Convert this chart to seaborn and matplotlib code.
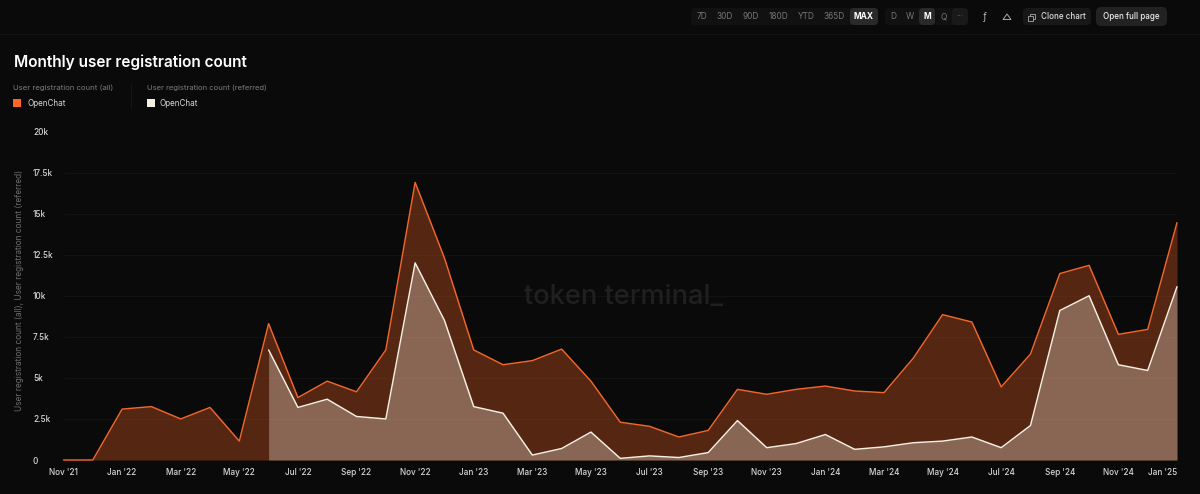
import numpy as np
import pandas as pd
import matplotlib.pyplot as plt
from matplotlib.patches import FancyBboxPatch, Rectangle
import seaborn as sns

# Values
months = pd.date_range('2021-11-01', '2025-01-01', freq='MS')
all_count = [0, 0, 3100, 3250, 2500, 3200, 1150, 8300, 3800, 4800, 4150, 6700, 16900,
             12300, 6700, 5800, 6050, 6750, 4800, 2300, 2050, 1400, 1800, 4300, 4000,
             4300, 4500, 4200, 4100, 6200, 8850, 8400, 4450, 6450, 11350, 11850, 7650,
             7950, 14450]
referred_count = [np.nan] * 7 + [6700, 3200, 3700, 2650, 2500, 12000, 8500, 3250, 2850, 300,
                                 700, 1700, 100, 250, 150, 450, 2400, 750, 1000, 1550, 650,
                                 800, 1050, 1150, 1400, 750, 2100, 9100, 10000, 5800, 5450,
                                 10550]
y_ticks = [0, 2500, 5000, 7500, 10000, 12500, 15000, 17500, 20000]
y_labels = ['0', '2.5k', '5k', '7.5k', '10k', '12.5k', '15k', '17.5k', '20k']
range_buttons = ['7D', '30D', '90D', '180D', 'YTD', '365D', 'MAX']
range_x = [702, 725, 751, 778, 806, 834, 864]
freq_buttons = ['D', 'W', 'M', 'Q', '···']
freq_x = [893, 910, 927, 944, 960]

BG = '#0a0a0a'
ORANGE = '#f0662c'
CREAM = '#f7f0e2'
W, H = 1200, 494

sns.set_theme(style='dark')
plt.rcParams['font.family'] = ['Inter', 'DejaVu Sans']

df = pd.DataFrame({'month': months, 'all': all_count, 'referred': referred_count})
df['x'] = np.arange(len(df))
ref = df.dropna(subset=['referred'])

fig = plt.figure(figsize=(12, 4.94), dpi=100, facecolor=BG)
ax = fig.add_axes([63.5 / W, 1 - 460 / H, (1177 - 63.5) / W, (460 - 131.5) / H], facecolor=BG)

ax.fill_between(df['x'], 0, df['all'], color='#ff6524', alpha=0.31, lw=0)
ax.fill_between(ref['x'], 0, ref['referred'], color=CREAM, alpha=0.32, lw=0)
sns.lineplot(data=df, x='x', y='all', color=ORANGE, lw=1.05, ax=ax, clip_on=False)
sns.lineplot(data=ref, x='x', y='referred', color=CREAM, lw=1.05, ax=ax, clip_on=False)

ax.set_xlim(0, len(df) - 1)
ax.set_ylim(0, 20000)
ax.set_yticks(y_ticks)
ax.set_yticklabels(y_labels, ha='left')
tick_x = list(df['x'][::2])
ax.set_xticks(tick_x)
ax.set_xticklabels([m.strftime("%b '%y") for m in df['month'][::2]])
ax.get_xticklabels()[-1].set_ha('right')
ax.tick_params(axis='both', length=0, colors='#d8d8d8', labelsize=5.9)
ax.tick_params(axis='x', pad=6)
ax.tick_params(axis='y', pad=22)
for lab in ax.get_xticklabels() + ax.get_yticklabels():
    lab.set_fontweight('medium')
ax.grid(axis='y', color='#131313', lw=0.7)
ax.grid(axis='x', visible=False)
ax.set_axisbelow(True)
sns.despine(ax=ax, left=True, bottom=True)
ax.set_xlabel('')
ax.set_ylabel('User registration count (all), User registration count (referred)',
              color='#6e6e6e', fontsize=6.0)
ax.yaxis.set_label_coords((24 - 63.5) / (1177 - 63.5), 0.517)


def px_text(x, y, s, **kw):
    kw.setdefault('va', 'center')
    kw.setdefault('ha', 'left')
    fig.text(x / W, 1 - y / H, s, **kw)


def px_box(x0, y0, x1, y1, color, rad=4):
    fig.add_artist(FancyBboxPatch((x0, H - y1), x1 - x0, y1 - y0,
                                  boxstyle=f'round,pad=0,rounding_size={rad}',
                                  transform=None, fc=color, ec='none', zorder=0))


# Watermark
px_text(624, 297, 'token terminal_', ha='center', fontsize=19.6, color='#202020', fontweight='medium')

# Title and legend
px_text(14, 62, 'Monthly user registration count', color='white', fontsize=11.1, fontweight='semibold')
px_text(13, 88, 'User registration count (all)', color='#7c7c7c', fontsize=5.6)
px_text(147, 88, 'User registration count (referred)', color='#7c7c7c', fontsize=5.5)
px_text(27, 103, 'OpenChat', color='#d8d8d8', fontsize=5.8)
px_text(160, 103, 'OpenChat', color='#d8d8d8', fontsize=5.8)
fig.add_artist(Rectangle((13 / W, 1 - 107 / H), 8 / W, 8 / H, transform=fig.transFigure, fc='#ff6524', ec='none'))
fig.add_artist(Rectangle((147 / W, 1 - 107 / H), 8 / W, 8 / H, transform=fig.transFigure, fc=CREAM, ec='none'))
fig.add_artist(plt.Line2D([131 / W, 131 / W], [1 - 108 / H, 1 - 84 / H], color='#171717', lw=0.7))

# Toolbar
fig.add_artist(plt.Line2D([0, 1], [1 - 34.5 / H, 1 - 34.5 / H], color='#141414', lw=0.7))
px_box(691, 8, 878, 25, '#111111')
px_box(850, 8, 878, 25, '#2a2a2a')
px_box(885, 8, 968, 25, '#111111')
px_box(919, 8, 935, 25, '#2a2a2a')
px_box(952, 8, 968, 25, '#1a1a1a')
px_box(1023, 8, 1091, 25, '#181818')
px_box(1096, 7, 1167, 26, '#222222', rad=5)
for s, x in zip(range_buttons, range_x):
    active = s == 'MAX'
    px_text(x, 16.5, s, ha='center', fontsize=6.0, color='white' if active else '#767676',
            fontweight='bold' if active else 'normal')
for s, x in zip(freq_buttons, freq_x):
    active = s == 'M'
    px_text(x, 16.5, s, ha='center', fontsize=6.0, color='white' if active else '#767676',
            fontweight='bold' if active else 'normal')
px_text(985, 16.5, 'ƒ', ha='center', fontsize=7, color='#bbbbbb')
px_text(1041, 16.5, 'Clone chart', fontsize=5.8, color='#dddddd', fontweight='medium')
px_text(1131.5, 16.5, 'Open full page', ha='center', fontsize=5.8, color='#eeeeee', fontweight='medium')
fig.add_artist(Rectangle((1030 / W, 1 - 19.5 / H), 5 / W, 5 / H, transform=fig.transFigure, fc='none', ec='#aaaaaa', lw=0.6))
fig.add_artist(Rectangle((1028 / W, 1 - 21 / H), 5 / W, 5 / H, transform=fig.transFigure, fc='#181818', ec='#aaaaaa', lw=0.6))
fig.add_artist(plt.Polygon([[1003 / W, 1 - 19.5 / H], [1011 / W, 1 - 19.5 / H], [1007 / W, 1 - 14 / H]],
                           closed=True, transform=fig.transFigure, fc='none', ec='#aaaaaa', lw=0.7))

fig.savefig('out.png', dpi=100, facecolor=BG)
